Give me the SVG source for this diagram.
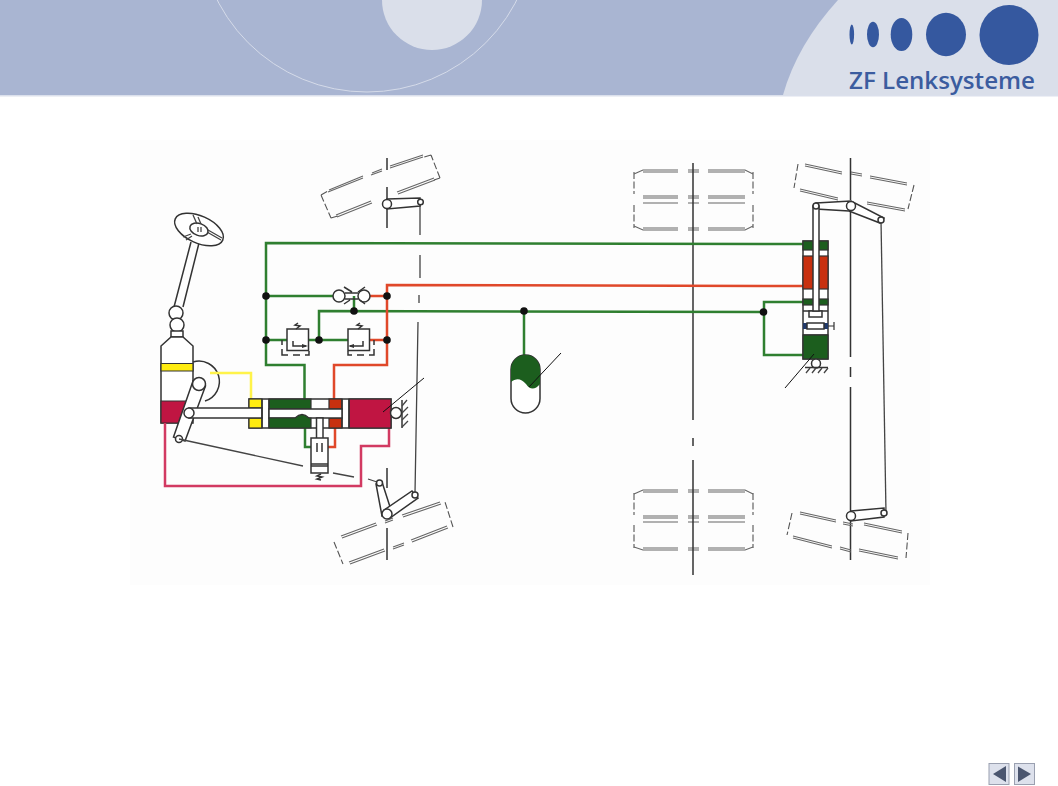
<svg xmlns="http://www.w3.org/2000/svg" width="1058" height="786" viewBox="0 0 1058 786">
<style>
.k{fill:none;stroke:#333;stroke-width:1.5}
.kt{fill:none;stroke:#444;stroke-width:1.3}
.w{fill:#fff;stroke:#333;stroke-width:1.5}
.d{fill:none;stroke:#666;stroke-width:1.1}
.ds{fill:none;stroke:#555;stroke-width:1.1;stroke-dasharray:7 2.5}
.g{fill:none;stroke:#2f7f30;stroke-width:2.5}
.r{fill:none;stroke:#e0482a;stroke-width:2.5}
.c{fill:none;stroke:#d23a62;stroke-width:2.5}
.y{fill:none;stroke:#fff34a;stroke-width:2.5}
.dot{fill:#111}
.fg{fill:#1c5e1e;stroke:#333;stroke-width:1.2}
.fr{fill:#c8300f;stroke:#333;stroke-width:1.2}
.fc{fill:#c01542;stroke:#333;stroke-width:1.2}
.fy{fill:#ffec10;stroke:#333;stroke-width:1.2}
.logo{fill:#35589f}
.btn{fill:#dde1ec;stroke:#9aa0b0;stroke-width:1}
.tri{fill:#4b566f}
</style>
<rect width="1058" height="786" fill="#fff"/>
<g id="header">
<rect width="1058" height="95" fill="#a9b5d2"/>
<rect y="95" width="1058" height="1.5" fill="#dbe0ec"/>
<circle cx="367" cy="-76" r="168" fill="none" stroke="#d5dbe9" stroke-width="1"/>
<circle cx="432" cy="0" r="50" fill="#dadfea"/>
<path d="M838 0Q797 45 783 95H1058V0Z" fill="#dadfea"/>
<ellipse class="logo" cx="851.800" cy="34.500" rx="2.300" ry="10"/>
<ellipse class="logo" cx="873" cy="34.500" rx="6" ry="12.800"/>
<ellipse class="logo" cx="901.500" cy="34.500" rx="10.800" ry="16.500"/>
<ellipse class="logo" cx="946" cy="34.500" rx="20" ry="21.700"/>
<ellipse class="logo" cx="1009" cy="35" rx="29.500" ry="30"/>
<text x="849" y="89" font-family="'Open Sans',sans-serif" font-weight="600" font-size="24" fill="#3b5c9f" textLength="186" lengthAdjust="spacingAndGlyphs">ZF Lenksysteme</text>
</g>
<rect x="130" y="140" width="800" height="445" fill="#fdfdfd"/>
<g id="wheel-front-top">
<path class="ds" d="M321 195L331 218M440 178L431 155M321 195L328 191M331 218L338 216M440 178L434 180M431 155L424 157"/>
<path class="d" d="M328 192L363 178M329 190L363 176M371 175L382 171M372 173L382 169M390 168L423 157M390 166L423 155M337 217L372 203M336 215L371 201M398 194L435 180M397 192L434 178"/>
<path class="k" d="M387 158V170M387 187V228"/>
</g>
<g id="wheel-front-bottom">
<path class="ds" d="M334 542L343 564M453 527L445 502"/>
<path class="d" d="M342 538L377 525M341 536L376 523M385 523L393 520M385 521L393 518M403 517L441 504M402 515L440 502M350 564L385 551M349 562L384 549M393 549L404 545M393 547L404 543M412 542L448 528M411 540L447 526"/>
<path class="k" d="M387 528V560M387 468V488"/>
</g>
<g id="wheels-rear">
<path class="ds" d="M634 172V194M753 172V194M634 205V228M753 205V228"/>
<path class="d" d="M634 174L643 170H678M643 172H678M688 170H699M688 172H699M708 170H745L753 174M708 172H745M643 196H678M643 198H678M688 196H699M688 198H699M708 196H745M708 198H745M643 203H678M688 203H699M708 203H745M634 226L643 230H678M643 228H678M688 230H699M688 228H699M708 230H745L753 226M708 228H745"/>
<path class="ds" d="M634 493V515M753 493V515M634 525V548M753 525V548"/>
<path class="d" d="M634 494L643 490H678M643 492H678M688 490H699M688 492H699M708 490H745L753 494M708 492H745M643 516H678M643 518H678M688 516H699M688 518H699M708 516H745M708 518H745M643 522H678M688 522H699M708 522H745M634 547L643 550H678M643 548H678M688 550H699M688 548H699M708 550H745L753 547M708 548H745"/>
<path class="k" d="M693 163V420M693 438V446M693 460V575"/>
</g>
<g id="wheel-right-top">
<path class="ds" d="M798 164L794 188M914 185L908 209"/>
<path class="d" d="M805 164L842 172M805 166L842 174M851 172L862 174M851 174L862 176M870 176L907 183M870 178L907 185M800 189L838 198M800 191L838 200M867 202L905 209M867 204L905 211"/>
<path class="k" d="M850.500 158V200M850.500 210V357M850.500 367V377M850.500 387V560"/>
</g>
<g id="wheel-right-bottom">
<path class="ds" d="M792 513L787 535M908 533L906 558"/>
<path class="d" d="M800 512L836 520M800 514L836 522M843 522L853 524M843 524L853 526M864 523L902 531M864 525L902 533M793 536L832 546M793 538L832 548M840 547L851 550M840 549L851 552M859 549L898 557M859 551L898 559"/>
</g>
<g id="steering-column">
<path class="k" d="M174 307L191 242M183 307L199 243"/>
<ellipse class="w" cx="199" cy="229.500" rx="26" ry="13.500" transform="rotate(24 199 229.500)"/>
<ellipse class="w" cx="199" cy="229.500" rx="9.500" ry="6" transform="rotate(20 199 229.500)"/>
<path class="kt" d="M193 215L197 224M198 217L201 224M207 232L221 240M208 230L222 238M191 234L183 237M192 236L186 240M198 227V232M201 227V232"/>
<circle class="w" cx="176" cy="313" r="7"/>
<circle class="w" cx="177" cy="325" r="7"/>
<rect class="w" x="171" y="331" width="12" height="6"/>
</g>
<g id="steering-gear">
<path class="w" d="M161 346L171 337H183L193 346V423H161Z"/>
<path class="fy" d="M161 363.500H193V371H161Z"/>
<path class="fc" d="M161 401H188L180 423H161Z"/>
<path class="k" d="M193 362A18.500 18.500 0 0 1 205 401"/>
<path class="w" d="M193 381L205.500 386L185 441L173.500 437Z"/>
<circle class="w" cx="199" cy="384" r="6.500"/>
<circle class="w" cx="179" cy="439" r="3.500"/>
</g>
<g id="connectors">
<path class="g" d="M803 244L266 243V365H304.500V399"/>
<path class="g" d="M266 296H333"/>
<path class="g" d="M266 340H287M309 340H348"/>
<path class="g" d="M763 312L319 311V340"/>
<path class="g" d="M354 296V311"/>
<path class="g" d="M524 311V356"/>
<path class="g" d="M803 302H764V355H803"/>
<path class="r" d="M803 286L387 285V365H334V399"/>
<path class="r" d="M370 296H387M369 340H387"/>
<path class="y" d="M210 373H251V399"/>
<path class="c" d="M165 423V486H361V446H389V428"/>
<path class="g" d="M305 428V447H312"/>
<path class="r" d="M335 428V447H328"/>
<path class="kt" d="M179 439L303 466M333 473L354 477M368 479L380 483"/>
<path class="kt" d="M420 203V235M420 255V278M419 295V303M418 322L415 493"/>
<path class="kt" d="M881 220L886 513"/>
</g>
<g id="junctions">
<circle class="dot" cx="266" cy="296" r="3.800"/>
<circle class="dot" cx="266" cy="340" r="3.800"/>
<circle class="dot" cx="387" cy="296" r="3.800"/>
<circle class="dot" cx="387" cy="340" r="3.800"/>
<circle class="dot" cx="319" cy="340" r="3.800"/>
<circle class="dot" cx="354" cy="311" r="3.800"/>
<circle class="dot" cx="524" cy="311" r="3.800"/>
<circle class="dot" cx="763.500" cy="312" r="3.800"/>
</g>
<g id="shuttle-valve">
<circle class="w" cx="339" cy="296" r="6"/>
<circle class="w" cx="364" cy="296" r="6"/>
<path class="k" d="M345 293H358M345 299H358M344 287L352 292M365 287L358 292M344 304L350 300M365 304L360 300"/>
</g>
<g id="relief-valve-left">
<rect class="w" x="287" y="329" width="21.500" height="21.500"/>
<path class="k" d="M293 341V346H306"/>
<path fill="#333" d="M302 344L308 346L302 348Z"/>
<path class="k" d="M298 323L295 325L300 326L296 329"/>
<path class="k" d="M282 340V345M282 349V355H288M293 355H300M305 355H309V351"/>
</g>
<g id="relief-valve-right">
<rect class="w" x="348" y="329" width="21.500" height="21.500"/>
<path class="k" d="M363 341V346H350"/>
<path fill="#333" d="M354 344L348 346L354 348Z"/>
<path class="k" d="M360 323L357 325L362 326L358 329"/>
<path class="k" d="M374 340V345M374 349V355H369M364 355H357M352 355H348V351"/>
</g>
<g id="main-cylinder">
<rect class="w" x="249" y="399" width="142" height="29"/>
<rect class="fy" x="249" y="399" width="13" height="9"/>
<rect class="fy" x="249" y="418" width="13" height="10"/>
<rect class="fg" x="269" y="399" width="42" height="10"/>
<rect class="fr" x="329" y="399" width="13" height="10"/>
<rect class="fr" x="329" y="418" width="13" height="10"/>
<rect class="fc" x="349" y="399" width="42" height="29"/>
<path class="w" d="M189 408H262V418H189Z"/>
<path class="k" d="M262 399V428M269 399V428M342 399V428M349 399V428"/>
<path class="w" d="M269 409H342V418H269Z"/>
<path class="fg" d="M269 418H295Q302 411 309 418H311V428H269Z"/>
<circle class="w" cx="189" cy="413" r="5"/>
<circle class="w" cx="396" cy="413" r="5.500"/>
<path class="k" d="M402 400V428"/>
<path class="kt" d="M402 406L407 400M402 413L408 407M402 420L408 414M402 427L408 421"/>
<path d="M383 412L424 378" fill="none" stroke="#111" stroke-width="1"/>
</g>
<g id="damper">
<rect class="w" x="316.500" y="418" width="6.500" height="22"/>
<rect class="w" x="311" y="438" width="17" height="35"/>
<path class="k" d="M311 464H328M311 466H328M317 443V452M322 443V452"/>
<path class="k" d="M321 474L317 476L322 477L317 479L321 480"/>
</g>
<g id="accumulator">
<path class="w" d="M511 369.500A14.500 14.500 0 0 1 540 369.500V398.500A14.500 14.500 0 0 1 511 398.500Z"/>
<path d="M511 369.500A14.500 14.500 0 0 1 540 369.500V384C535 390 530 390 526 384C521 378 516 378 511 382Z" fill="#1c5e1e"/>
<path d="M561 353L529 387" fill="none" stroke="#111" stroke-width="1"/>
</g>
<g id="linkage-front">
<path class="w" d="M376 484L382 482L392 513L382 516Z"/>
<path class="w" d="M384 510L412 491L418 498L390 518Z"/>
<circle class="w" cx="387" cy="514" r="5"/>
<circle class="w" cx="379.500" cy="483" r="3"/>
<circle class="w" cx="415" cy="495" r="3"/>
<path class="w" d="M387 199L420 198V206L387 209Z"/>
<circle class="w" cx="387" cy="204" r="4.500"/>
<circle class="w" cx="420.500" cy="202" r="2.800"/>
</g>
<g id="linkage-right">
<path class="w" d="M816 203L851 201L884 218L880 223L849 211L816 209Z"/>
<circle class="w" cx="851" cy="206" r="4.500"/>
<circle class="w" cx="881" cy="220" r="3"/>
<path class="w" d="M851 511L884 508V517L851 521Z"/>
<circle class="w" cx="851" cy="516" r="4.500"/>
<circle class="w" cx="884" cy="513" r="3"/>
</g>
<g id="steering-cylinder-right">
<rect class="w" x="803" y="241" width="25" height="118"/>
<rect class="fg" x="803" y="241" width="25" height="9"/>
<rect class="fr" x="803" y="256" width="25" height="33"/>
<rect class="fg" x="803" y="299" width="25" height="6"/>
<path class="k" d="M803 311H828M803 335H828"/>
<rect fill="#223a6a" x="803" y="323" width="25" height="6"/>
<rect class="w" x="807" y="323" width="17" height="6"/>
<path d="M828 326H834M834 322V330" fill="none" stroke="#333" stroke-width="1.200"/>
<rect class="fg" x="803" y="335" width="25" height="24"/>
<rect class="w" x="809" y="311" width="13" height="6"/>
<path class="w" d="M813 206H819V311H813Z"/>
<circle class="w" cx="816" cy="206" r="3"/>
<circle class="w" cx="816" cy="363.500" r="4.500"/>
<path class="k" d="M805 367.500H828"/>
<path class="kt" d="M810 368L806 373M816 368L812 373M822 368L818 373M828 368L824 373"/>
<path d="M814 354L785 388" fill="none" stroke="#111" stroke-width="1"/>
</g>
<g id="nav-buttons">
<rect class="btn" x="989" y="763.500" width="20" height="21"/>
<path class="tri" d="M993 774L1006 766V782Z"/>
<rect class="btn" x="1014.500" y="763.500" width="20" height="21"/>
<path class="tri" d="M1018 766.500V782L1031 774Z"/>
</g>
</svg>
